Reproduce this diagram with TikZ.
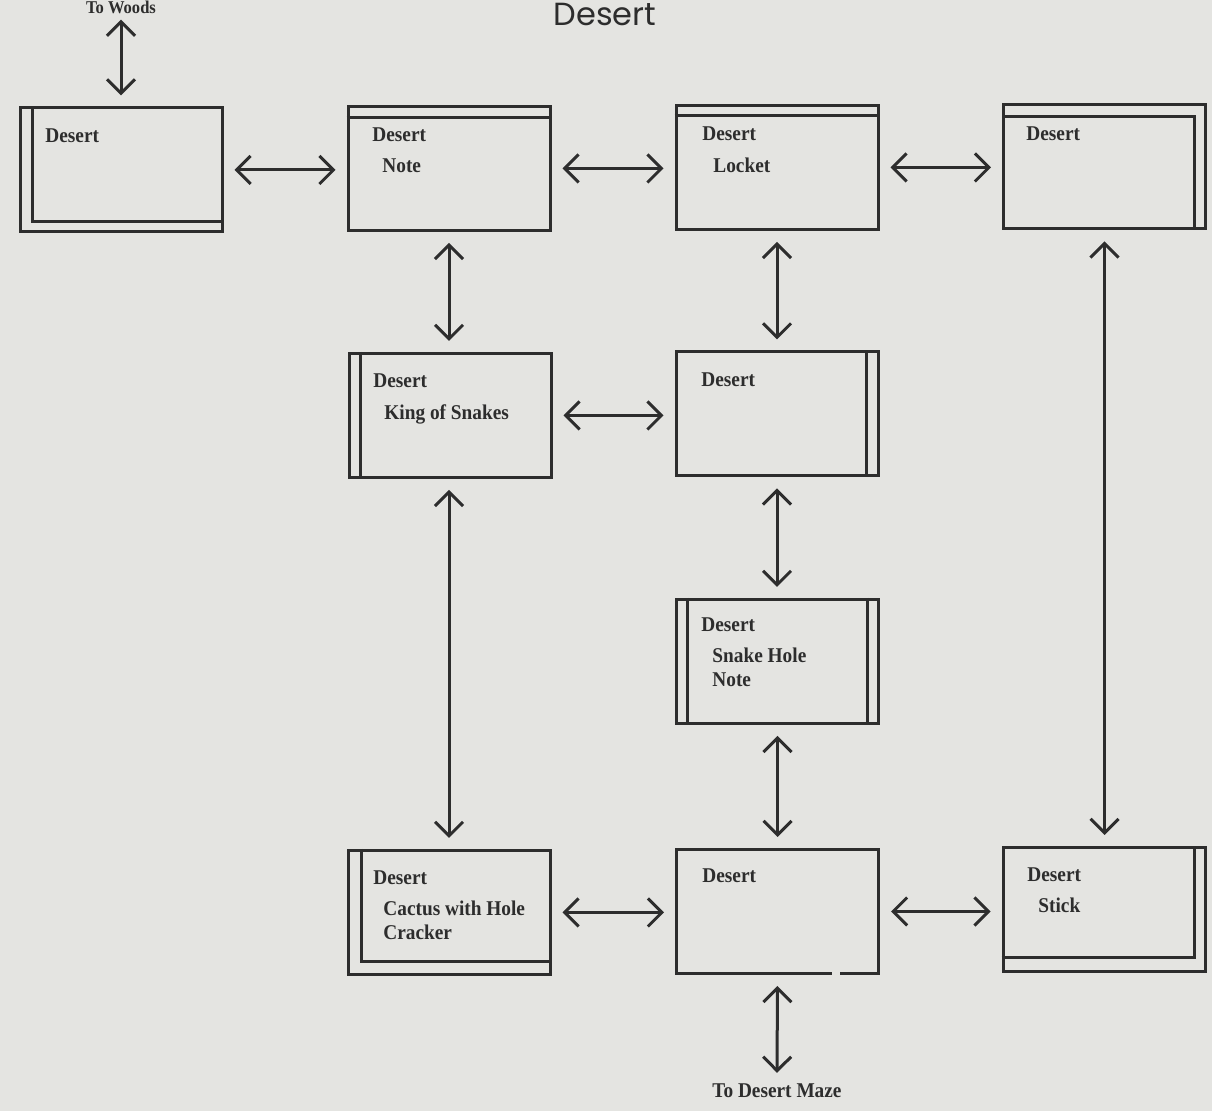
\documentclass[tikz,border=0pt]{standalone}
\usepackage{fontspec}
\setmainfont{Liberation Serif}
\newfontfamily\boxfont[FakeStretch=0.92]{Liberation Serif}
\newfontfamily\titlefont{Poppins}
\usetikzlibrary{arrows.meta,calc}
\definecolor{bg}{RGB}{228,228,225}
\definecolor{ink}{RGB}{45,45,45}
\begin{document}
\begin{tikzpicture}[x=0.5pt,y=-0.5pt,
  room/.style={draw=ink,line width=1.5pt,line join=miter,minimum width=101pt,minimum height=62pt,inner sep=0pt},
  inline/.style={draw=ink,line width=1.5pt,line join=miter},
  lbl/.style={font=\boxfont\bfseries\fontsize{10.5}{12}\selectfont,text=ink,anchor=base west,inner sep=0pt},
  link/.style={draw=ink,line width=1.5pt,{Straight Barb[length=7pt,width=14pt]}-{Straight Barb[length=7pt,width=14pt]},shorten <=5.5pt,shorten >=5.5pt}]
\fill[bg] (0,0) rectangle (1212,1111);
\useasboundingbox (0,0) rectangle (1212,1111);

% title
\node[font=\titlefont\fontsize{16}{19}\selectfont,text=ink,anchor=base,inner sep=0pt] (title) at (605,26) {Desert};

% rooms
\node[room] (A) at (121,170) {};
\node[room] (B) at (449,168.5) {};
\node[room] (C) at (777,167.5) {};
\node[room] (D) at (1104.5,167) {};
\node[room] (E) at (450,415.5) {};
\node[room] (F) at (777,414) {};
\node[room] (G) at (777.5,661.5) {};
\node[room] (H) at (449,912.5) {};
\node[room] (I) at (777.5,911.5) {};
\node[room] (J) at (1104,909.5) {};

% inner lines
\draw[inline] ($(A.north west)+(14,0)$) -- ($(A.south west)+(14,-12)$) -- ($(A.south east)+(0,-12)$);
\draw[inline] ($(B.north west)+(0,13)$) -- ($(B.north east)+(0,13)$);
\draw[inline] ($(C.north west)+(0,12)$) -- ($(C.north east)+(0,12)$);
\draw[inline] ($(D.north west)+(0,13)$) -- ($(D.north east)+(-13,13)$) -- ($(D.south east)+(-13,0)$);
\draw[inline] ($(E.north west)+(13,0)$) -- ($(E.south west)+(13,0)$);
\draw[inline] ($(F.north east)+(-13,0)$) -- ($(F.south east)+(-13,0)$);
\draw[inline] ($(G.north west)+(12,0)$) -- ($(G.south west)+(12,0)$);
\draw[inline] ($(G.north east)+(-13,0)$) -- ($(G.south east)+(-13,0)$);
\draw[inline] ($(H.north west)+(15,0)$) -- ($(H.south west)+(15,-14)$) -- ($(H.south east)+(0,-14)$);
\draw[inline] ($(J.south west)+(0,-15)$) -- ($(J.south east)+(-12,-15)$) -- ($(J.north east)+(-12,0)$);
\fill[bg] (832,970) rectangle (840,980);

% labels
\node[lbl] (A1) at (45,143) {Desert};
\node[lbl] (B1) at (372,142) {Desert};
\node[lbl] (B2) at (382,173) {Note};
\node[lbl] (C1) at (702,141) {Desert};
\node[lbl] (C2) at (713,173) {Locket};
\node[lbl] (D1) at (1026,141) {Desert};
\node[lbl] (E1) at (373,388) {Desert};
\node[lbl] (E2) at (384,420) {King of Snakes};
\node[lbl] (F1) at (701,387) {Desert};
\node[lbl] (G1) at (701,632) {Desert};
\node[lbl] (G2) at (712,663) {Snake Hole};
\node[lbl] (G3) at (712,687) {Note};
\node[lbl] (H1) at (373,885) {Desert};
\node[lbl] (H2) at (383,916) {Cactus with Hole};
\node[lbl] (H3) at (383,940) {Cracker};
\node[lbl] (I1) at (702,883) {Desert};
\node[lbl] (J1) at (1027,882) {Desert};
\node[lbl] (J2) at (1038,913) {Stick};

\node[lbl,anchor=base,font=\boxfont\bfseries\fontsize{9}{10}\selectfont] (woods) at (121,14) {To Woods};
\node[lbl,anchor=base] (maze) at (777,1098) {To Desert Maze};

% connectors
\draw[link,shorten >=2.5pt] (A.north) -- (woods.south);
\draw[link] (A.east) -- (A.east -| B.west);
\draw[link] (B.east) -- (B.east -| C.west);
\draw[link] (C.east) -- (C.east -| D.west);
\draw[link] (B.south) -- (B.south |- E.north);
\draw[link] (C.south) -- (C.south |- F.north);
\draw[link] (E.east) -- (E.east -| F.west);
\draw[link] (H.north) -- (H.north |- E.south);
\draw[link] (F.south) -- (F.south |- G.north);
\draw[link] (G.south) -- (G.south |- I.north);
\draw[link] (H.east) -- (H.east -| I.west);
\draw[link] (I.east) -- (I.east -| J.west);
\draw[link] (D.south) -- (D.south |- J.north);
\draw[link] (I.south) -- (maze.north);
\end{tikzpicture}
\end{document}
